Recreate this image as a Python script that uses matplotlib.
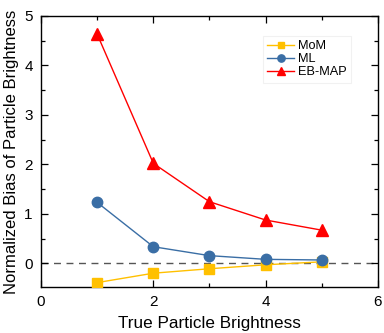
import matplotlib
matplotlib.use("Agg")
import matplotlib.pyplot as plt
from matplotlib.ticker import MultipleLocator

plt.rcParams['font.family'] = ['Liberation Sans', 'DejaVu Sans']

brightness = [1, 2, 3, 4, 5]
bias_mom = [-0.39, -0.20, -0.11, -0.03, 0.03]
bias_ml = [1.23, 0.335, 0.155, 0.08, 0.067]
bias_ebmap = [4.63, 2.02, 1.245, 0.875, 0.67]

fig = plt.figure(figsize=(3.84, 3.33), dpi=100)
ax = fig.add_axes([0.107, 0.138, 0.877, 0.814])

ax.axhline(0, color='#555555', lw=1.0, ls=(0, (5, 4)), zorder=1)
ax.plot(brightness, bias_mom, color='#FFC000', marker='s', ms=7, lw=1.0, label='MoM', zorder=3)
ax.plot(brightness, bias_ml, color='#3A6EA5', marker='o', ms=7.5, lw=1.0, label='ML', zorder=3)
ax.plot(brightness, bias_ebmap, color='#FF0000', marker='^', ms=8.5, lw=1.0, label='EB-MAP', zorder=3)

ax.set_xlim(0, 6)
ax.set_ylim(-0.48, 5)
ax.xaxis.set_major_locator(MultipleLocator(2))
ax.xaxis.set_minor_locator(MultipleLocator(1))
ax.yaxis.set_major_locator(MultipleLocator(1))
ax.yaxis.set_minor_locator(MultipleLocator(0.5))
ax.tick_params(which='both', direction='in', top=True, right=True, labelsize=11, width=0.9)
ax.tick_params(which='major', length=5, pad=6)
ax.tick_params(which='minor', length=3)
for s in ax.spines.values():
    s.set_linewidth(1.0)

ax.set_xlabel('True Particle Brightness', fontsize=12.3, labelpad=5)
ax.set_ylabel('Normalized Bias of Particle Brightness', fontsize=12, labelpad=4)

leg = ax.legend(loc='upper right', bbox_to_anchor=(0.94, 0.95), fontsize=9.2, frameon=True,
                fancybox=False, edgecolor='#eeeeee', handlelength=2.1, handletextpad=0.3,
                labelspacing=0.08, borderpad=0.35, markerscale=0.7)
leg.get_frame().set_linewidth(0.8)

fig.savefig('out.png', dpi=100)
